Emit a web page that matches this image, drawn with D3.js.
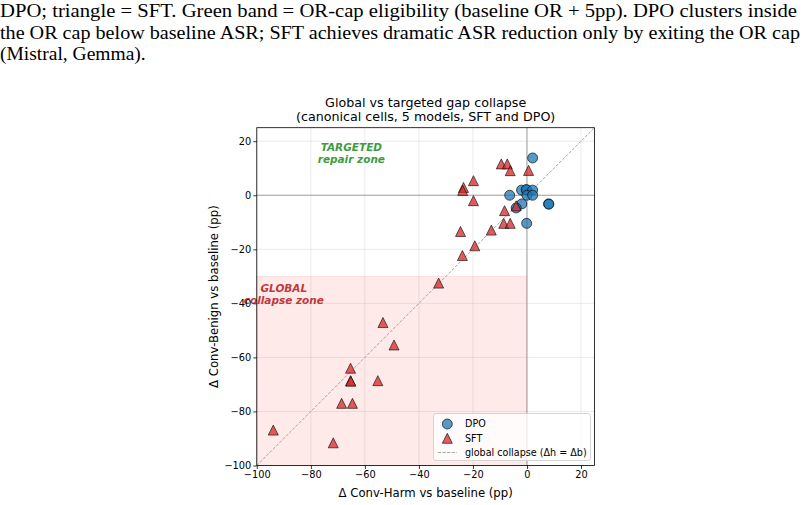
<!DOCTYPE html>
<html><head><meta charset="utf-8">
<script src="https://cdn.jsdelivr.net/npm/d3@7"></script>
<style>body{margin:0;background:#fff}svg{display:block}</style>
</head><body><svg id="c" width="804" height="505"></svg>
<script>
const captionLines = [
  "DPO; triangle = SFT. Green band = OR-cap eligibility (baseline OR + 5pp).  DPO clusters inside",
  "the OR cap below baseline ASR; SFT achieves dramatic ASR reduction only by exiting the OR cap",
  "(Mistral, Gemma)."
];
const titleLines = ["Global vs targeted gap collapse", "(canonical cells, 5 models, SFT and DPO)"];
const xLabel = "\u0394 Conv-Harm vs baseline (pp)";
const yLabel = "\u0394 Conv-Benign vs baseline (pp)";
const xTicks = [-100, -80, -60, -40, -20, 0, 20];
const yTicks = [-100, -80, -60, -40, -20, 0, 20];

const dpoX = [2.1, -6.4, -2.0, 0.0, -0.3, 2.1, 0.0, 2.1, 8.0, 8.1, -1.9, -4.0, -0.1];
const dpoY = [13.8, 0.0, 1.9, 1.9, 2.1, 1.9, 0.0, 0.0, -3.2, -3.3, -3.2, -4.7, -10.4];

const sftX = [-9.5, -7.3, -6.2, 0.6, -19.8, -23.5, -23.8, -19.8, -8.3, -4.0, -8.6, -6.2, -13.2, -24.6, -19.3, -23.9, -32.7, -53.3, -49.2, -65.3, -65.3, -65.2, -55.2, -68.6, -64.6, -93.9, -71.7];
const sftY = [11.6, 11.6, 9.1, 9.2, 5.4, 2.9, 1.8, -2.0, -5.7, -3.9, -10.4, -10.4, -12.9, -13.4, -18.7, -22.3, -32.5, -47.1, -55.4, -64.0, -68.6, -68.8, -68.6, -77.0, -77.0, -86.9, -91.6];

const legendLabels = ["DPO", "SFT", "global collapse (\u0394h = \u0394b)"];

const svg = d3.select("#c");
// caption
const cap = svg.append("g").attr("font-family", "'Liberation Serif','Times New Roman',serif").attr("font-size", 19.5).attr("fill", "#000");
const capLens = [797, 800, null];
captionLines.forEach((t, i) => {
  const el = cap.append("text").attr("x", 0).attr("y", 17 + i * 21.6).text(t);
  if (capLens[i]) el.attr("textLength", capLens[i]).attr("lengthAdjust", "spacingAndGlyphs");
});

const L = 256.8, R = 594.5, T = 127.7, B = 465.5;
const x = d3.scaleLinear().domain([-100, 25]).range([L, R]);
const y = d3.scaleLinear().domain([-100, 25]).range([B, T]);
const font = "'DejaVu Sans', sans-serif";

const g = svg.append("g");
// grid
g.append("g").selectAll("line").data(xTicks).join("line")
  .attr("x1", d => x(d)).attr("x2", d => x(d)).attr("y1", T).attr("y2", B)
  .attr("stroke", "#b0b0b0").attr("stroke-opacity", 0.3).attr("stroke-width", 0.8);
g.append("g").selectAll("line").data(yTicks).join("line")
  .attr("y1", d => y(d)).attr("y2", d => y(d)).attr("x1", L).attr("x2", R)
  .attr("stroke", "#b0b0b0").attr("stroke-opacity", 0.3).attr("stroke-width", 0.8);

// global collapse zone
g.append("rect").attr("x", x(-100)).attr("y", y(-30)).attr("width", x(0) - x(-100)).attr("height", y(-100) - y(-30))
  .attr("fill", "#ff1a1a").attr("fill-opacity", 0.09).attr("stroke", "#ff1a1a").attr("stroke-opacity", 0.1).attr("stroke-width", 1);

// zero lines
g.append("line").attr("x1", L).attr("x2", R).attr("y1", y(0)).attr("y2", y(0)).attr("stroke", "#999").attr("stroke-width", 0.9);
g.append("line").attr("x1", x(0)).attr("x2", x(0)).attr("y1", T).attr("y2", B).attr("stroke", "#999").attr("stroke-width", 0.9);

// diagonal
g.append("line").attr("x1", x(-100)).attr("y1", y(-100)).attr("x2", x(25)).attr("y2", y(25))
  .attr("stroke", "#999").attr("stroke-width", 0.9).attr("stroke-dasharray", "3,1.6");

// zone labels
function zoneText(lines, cx, cy, color) {
  const t = g.append("text").attr("font-family", font).attr("font-size", 10.5).attr("font-weight", "bold")
    .attr("font-style", "italic").attr("fill", color).attr("text-anchor", "middle");
  lines.forEach((s, i) => t.append("tspan").attr("x", x(cx)).attr("y", y(cy) + (i - 0.5) * 12 + 4).text(s));
}
zoneText(["TARGETED", "repair zone"], -65, 15.6, "#3f9b3f");
zoneText(["GLOBAL", "collapse zone"], -90, -36.4, "#c0393b");

// markers
const R0 = 5;
const triPath = s => `M0,${-s}L${s},${s}L${-s},${s}Z`;
g.append("g").selectAll("circle").data(dpoX.map((v, i) => [v, dpoY[i]])).join("circle")
  .attr("cx", d => x(d[0])).attr("cy", d => y(d[1])).attr("r", R0)
  .attr("fill", "#1f77b4").attr("fill-opacity", 0.75).attr("stroke", "#000").attr("stroke-opacity", 0.8).attr("stroke-width", 0.8);
g.append("g").selectAll("path").data(sftX.map((v, i) => [v, sftY[i]])).join("path")
  .attr("transform", d => `translate(${x(d[0])},${y(d[1])})`).attr("d", triPath(R0))
  .attr("fill", "#d62728").attr("fill-opacity", 0.75).attr("stroke", "#000").attr("stroke-opacity", 0.75).attr("stroke-width", 0.8);

// axes
const xa = svg.append("g").attr("transform", `translate(0,${B})`)
  .call(d3.axisBottom(x).tickValues(xTicks).tickSize(3.5).tickPadding(2).tickFormat(d3.format("d")));
const ya = svg.append("g").attr("transform", `translate(${L},0)`)
  .call(d3.axisLeft(y).tickValues(yTicks).tickSize(3.5).tickPadding(2).tickFormat(d3.format("d")));
[xa, ya].forEach(a => {
  a.select(".domain").remove();
  a.selectAll("text").attr("font-family", font).attr("font-size", 9.8).attr("fill", "#000");
  a.selectAll("line").attr("stroke", "#000").attr("stroke-width", 0.8);
});
// spines
svg.append("rect").attr("x", L).attr("y", T).attr("width", R - L).attr("height", B - T)
  .attr("fill", "none").attr("stroke", "#000").attr("stroke-width", 0.8);

// titles
const tt = svg.append("text").attr("font-family", font).attr("font-size", 12.7).attr("text-anchor", "middle").attr("fill", "#000");
titleLines.forEach((s, i) => tt.append("tspan").attr("x", (L + R) / 2).attr("y", 106.5 + i * 14.8).text(s));
svg.append("text").attr("font-family", font).attr("font-size", 11.7).attr("text-anchor", "middle")
  .attr("x", (L + R) / 2).attr("y", 497).text(xLabel);
svg.append("text").attr("font-family", font).attr("font-size", 11.7).attr("text-anchor", "middle")
  .attr("transform", `translate(218,${(T + B) / 2}) rotate(-90)`).text(yLabel);

// legend
const lg = svg.append("g");
lg.append("rect").attr("x", 433.5).attr("y", 413.5).attr("width", 157).attr("height", 47).attr("rx", 2.5)
  .attr("fill", "#fff").attr("fill-opacity", 0.8).attr("stroke", "#ccc").attr("stroke-width", 0.8);
lg.append("circle").attr("cx", 447.3).attr("cy", 424).attr("r", R0)
  .attr("fill", "#1f77b4").attr("fill-opacity", 0.75).attr("stroke", "#000").attr("stroke-opacity", 0.8).attr("stroke-width", 0.8);
lg.append("path").attr("transform", "translate(447.3,438.3)").attr("d", triPath(R0))
  .attr("fill", "#d62728").attr("fill-opacity", 0.75).attr("stroke", "#000").attr("stroke-opacity", 0.75).attr("stroke-width", 0.8);
lg.append("line").attr("x1", 438).attr("x2", 457).attr("y1", 452.5).attr("y2", 452.5)
  .attr("stroke", "#999").attr("stroke-width", 0.9).attr("stroke-dasharray", "3,1.6");
legendLabels.forEach((s, i) => lg.append("text").attr("font-family", font).attr("font-size", 9.6)
  .attr("x", 465).attr("y", 427.3 + i * 14.3).text(s));
</script></body></html>
